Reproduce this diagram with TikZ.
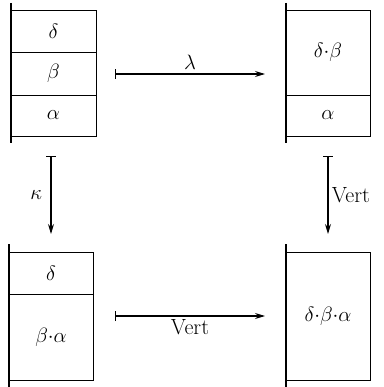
\documentclass[tikz,border=0pt]{standalone}
\usetikzlibrary{arrows.meta}
\begin{document}
\begin{tikzpicture}[x=1pt,y=-1pt,
  cell/.style={draw,line width=0.9pt,minimum width=85pt,inner sep=0pt,font=\fontsize{21}{25}\selectfont},
  spine/.style={line width=2.4pt},
  mapto/.style={line width=1.1pt,{Bar[width=10pt,line width=1.1pt]}-{Stealth[length=10pt,width=6pt]}},
  lbl/.style={font=\fontsize{21}{25}\selectfont},
  txt/.style={font=\fontsize{22}{26}\selectfont}]
\useasboundingbox (0,0) rectangle (383,387);
% top-left stack
\node[cell,minimum height=42pt] (tl1) at (53.5,31) {$\delta$};
\node[cell,minimum height=43pt] (tl2) at (53.5,73.5) {$\beta$};
\node[cell,minimum height=41pt] (tl3) at (53.5,115.5) {$\alpha$};
\coordinate (tlsA) at (11,3);
\coordinate (tlsB) at (11,143);
\draw[spine] (tlsA) -- (tlsB);
% top-right stack
\node[cell,minimum height=85pt] (tr1) at (328,52.5) {$\delta{\cdot}\beta$};
\node[cell,minimum height=41pt] (tr2) at (328,115.5) {$\alpha$};
\coordinate (trsA) at (286,3);
\coordinate (trsB) at (286,143);
\draw[spine] (trsA) -- (trsB);
% bottom-left stack
\node[cell,minimum height=42pt] (bl1) at (51,273) {$\delta$};
\node[cell,minimum height=86pt] (bl2) at (51,337) {$\beta{\cdot}\alpha$};
\coordinate (blsA) at (9,244);
\coordinate (blsB) at (9,387);
\draw[spine] (blsA) -- (blsB);
% bottom-right stack
\node[cell,minimum height=128pt] (br1) at (328,316) {$\delta{\cdot}\beta{\cdot}\alpha$};
\coordinate (brsA) at (286,244);
\coordinate (brsB) at (286,387);
\draw[spine] (brsA) -- (brsB);
% arrows
\coordinate (hA) at (115,74);
\coordinate (hB) at (265,74);
\draw[mapto] (hA) -- (hB) node[midway,above=1pt,lbl] {$\lambda$};
\coordinate (h2A) at (115,316);
\coordinate (h2B) at (265,316);
\draw[mapto] (h2A) -- (h2B) node[midway,below=0pt,txt] {Vert};
\coordinate (vA) at (51,156);
\coordinate (vB) at (51,234);
\draw[mapto] (vA) -- (vB) node[midway,left=5pt,lbl] {$\kappa$};
\coordinate (v2A) at (328,156);
\coordinate (v2B) at (328,234);
\draw[mapto] (v2A) -- (v2B) node[midway,right=0pt,txt] {Vert};
\end{tikzpicture}
\end{document}
